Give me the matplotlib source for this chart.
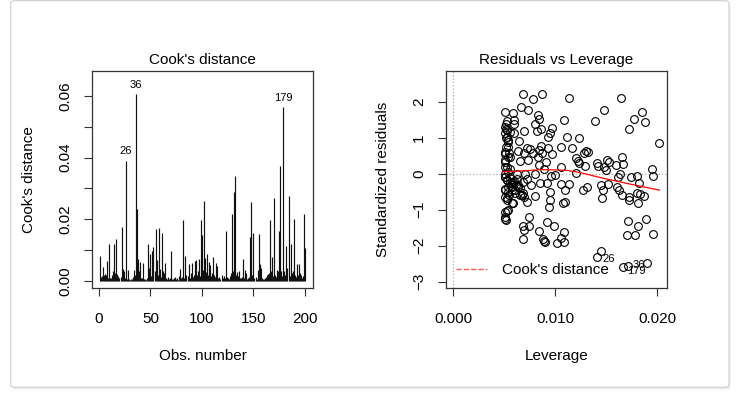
import numpy as np
import matplotlib
matplotlib.use("Agg")
import matplotlib.pyplot as plt
from matplotlib.patches import FancyBboxPatch

plt.rcParams['font.family'] = ['Liberation Sans', 'DejaVu Sans']

cooks = [
    0.0080, 0.0012, 0.0015, 0.0045, 0.0020, 0.0022, 0.0018, 0.0063, 0.0010, 0.0120,
    0.0010, 0.0008, 0.0020, 0.0030, 0.0118, 0.0025, 0.0135, 0.0022, 0.0015, 0.0008,
    0.0012, 0.0173, 0.0037, 0.0030, 0.0010, 0.0390, 0.0006, 0.0035, 0.0004, 0.0003,
    0.0005, 0.0004, 0.0012, 0.0035, 0.0018, 0.0605, 0.0233, 0.0070, 0.0030, 0.0062,
    0.0010, 0.0008, 0.0056, 0.0006, 0.0004, 0.0003, 0.0010, 0.0120, 0.0040, 0.0088,
    0.0015, 0.0096, 0.0110, 0.0030, 0.0169, 0.0068, 0.0020, 0.0171, 0.0037, 0.0012,
    0.0154, 0.0030, 0.0025, 0.0058, 0.0010, 0.0006, 0.0012, 0.0004, 0.0008, 0.0098,
    0.0006, 0.0004, 0.0010, 0.0012, 0.0005, 0.0008, 0.0003, 0.0015, 0.0037, 0.0010,
    0.0012, 0.0198, 0.0008, 0.0080, 0.0020, 0.0015, 0.0054, 0.0010, 0.0025, 0.0056,
    0.0012, 0.0018, 0.0063, 0.0067, 0.0020, 0.0030, 0.0072, 0.0015, 0.0197, 0.0150,
    0.0035, 0.0259, 0.0073, 0.0028, 0.0087, 0.0020, 0.0060, 0.0050, 0.0015, 0.0025,
    0.0078, 0.0020, 0.0012, 0.0058, 0.0048, 0.0008, 0.0012, 0.0006, 0.0020, 0.0010,
    0.0015, 0.0008, 0.0162, 0.0012, 0.0010, 0.0006, 0.0015, 0.0025, 0.0216, 0.0030,
    0.0289, 0.0341, 0.0020, 0.0028, 0.0015, 0.0032, 0.0010, 0.0008, 0.0012, 0.0071,
    0.0010, 0.0035, 0.0025, 0.0006, 0.0008, 0.0012, 0.0143, 0.0254, 0.0020, 0.0155,
    0.0010, 0.0012, 0.0006, 0.0035, 0.0153, 0.0053, 0.0040, 0.0008, 0.0005, 0.0004,
    0.0010, 0.0012, 0.0018, 0.0022, 0.0025, 0.0196, 0.0030, 0.0078, 0.0015, 0.0270,
    0.0020, 0.0012, 0.0035, 0.0030, 0.0160, 0.0373, 0.0030, 0.0015, 0.0565, 0.0032,
    0.0020, 0.0114, 0.0040, 0.0275, 0.0015, 0.0119, 0.0025, 0.0032, 0.0200, 0.0018,
    0.0012, 0.0054, 0.0020, 0.0054, 0.0025, 0.0018, 0.0010, 0.0015, 0.0216, 0.0105,
]
obs = np.arange(1, len(cooks) + 1)
cook_ids = [26, 36, 179]

# Residuals vs leverage points
leverage = [
    0.00686, 0.00778, 0.00866, 0.01131, 0.01647, 0.00660, 0.00729, 0.00503, 0.00588, 0.00827,
    0.00837, 0.00595, 0.00523, 0.00513, 0.01085, 0.01389, 0.01477, 0.01846, 0.01771, 0.01882,
    0.01725, 0.00598, 0.00801, 0.00856, 0.00964, 0.00820, 0.00690, 0.00513, 0.00503, 0.00556,
    0.00598, 0.00526, 0.01111, 0.01232, 0.00928, 0.00951, 0.00647, 0.02013, 0.00533, 0.00533,
    0.00719, 0.00752, 0.00859, 0.00925, 0.01052, 0.01163, 0.01301, 0.01324, 0.01281, 0.00843,
    0.00873, 0.00631, 0.00696, 0.00778, 0.00964, 0.00552, 0.00503, 0.00542, 0.00650, 0.00735,
    0.00830, 0.00908, 0.00843, 0.01203, 0.01222, 0.01235, 0.01294, 0.01056, 0.01412, 0.01415,
    0.01503, 0.01526, 0.01497, 0.01650, 0.01660, 0.01595, 0.01480, 0.01948, 0.01958, 0.00503,
    0.00503, 0.00552, 0.00503, 0.00533, 0.00621, 0.00706, 0.00801, 0.00958, 0.00997, 0.00892,
    0.01203, 0.01614, 0.01634, 0.01745, 0.01804, 0.01824, 0.00507, 0.00529, 0.00556, 0.00572,
    0.00588, 0.00621, 0.00637, 0.00654, 0.00605, 0.00539, 0.00503, 0.00686, 0.00719, 0.00761,
    0.00850, 0.00915, 0.00948, 0.01056, 0.01137, 0.01095, 0.01275, 0.01307, 0.01448, 0.01471,
    0.01513, 0.01608, 0.01627, 0.01650, 0.01719, 0.01719, 0.01804, 0.01830, 0.01869, 0.01807,
    0.01458, 0.00670, 0.00690, 0.00719, 0.00804, 0.00948, 0.00941, 0.01078, 0.01095, 0.00503,
    0.00523, 0.00529, 0.00503, 0.00572, 0.00533, 0.00503, 0.00503, 0.00745, 0.00680, 0.00745,
    0.00693, 0.00686, 0.00843, 0.00922, 0.00990, 0.01088, 0.00876, 0.00889, 0.00902, 0.01059,
    0.01088, 0.01020, 0.01712, 0.01889, 0.01807, 0.01703, 0.01784, 0.01954, 0.01448, 0.01412,
    0.01660, 0.01710, 0.01902, 0.00507, 0.00523, 0.00556, 0.00572, 0.00595, 0.00615, 0.00637,
    0.00539, 0.00507, 0.00572, 0.00654, 0.00670, 0.00686, 0.00549, 0.00605, 0.00523, 0.00582,
    0.00516, 0.00507, 0.00523, 0.00513, 0.00539, 0.00516, 0.00507, 0.00539, 0.00507, 0.00523,
]
std_resid = [
    2.20, 2.06, 2.20, 2.10, 2.11, 1.86, 1.78, 1.72, 1.69, 1.62,
    1.53, 1.50, 1.47, 1.39, 1.49, 1.47, 1.76, 1.70, 1.53, 1.42,
    1.25, 1.37, 1.38, 1.25, 1.27, 1.19, 1.17, 1.25, 1.12, 1.16,
    1.13, 1.02, 1.01, 1.00, 1.02, 1.12, 0.90, 0.84, 0.93, 0.75,
    0.72, 0.69, 0.76, 0.70, 0.75, 0.72, 0.63, 0.61, 0.58, 0.65,
    0.58, 0.62, 0.56, 0.56, 0.53, 0.47, 0.54, 0.56, 0.35, 0.39,
    0.47, 0.31, 0.24, 0.42, 0.35, 0.28, 0.21, 0.19, 0.30, 0.21,
    0.38, 0.31, 0.10, 0.45, 0.26, 0.24, 0.19, 0.13, -0.07, 0.37,
    0.19, 0.14, 0.00, 0.05, 0.00, -0.01, -0.02, -0.06, -0.03, 0.12,
    0.02, -0.09, 0.00, -0.09, -0.06, -0.25, -0.09, -0.18, -0.25, -0.37,
    -0.23, -0.16, -0.32, -0.41, -0.46, -0.50, -0.44, -0.23, -0.16, -0.32,
    -0.27, -0.27, -0.50, -0.29, -0.30, -0.46, -0.46, -0.38, -0.32, -0.46,
    -0.30, -0.37, -0.46, -0.60, -0.64, -0.74, -0.53, -0.58, -0.62, -0.81,
    -0.69, -0.60, -0.64, -0.78, -0.62, -0.74, -0.94, -0.83, -0.78, -0.64,
    -0.69, -1.03, -1.06, -0.83, -1.00, -1.25, -1.20, -1.22, -1.46, -1.45,
    -1.57, -1.82, -1.59, -1.34, -1.45, -1.62, -1.83, -1.87, -1.89, -1.80,
    -1.89, -1.92, -1.31, -1.25, -1.46, -1.71, -1.71, -1.69, -2.14, -2.33,
    -2.60, -2.56, -2.49, -0.09, -0.18, -0.13, -0.27, -0.22, -0.32, -0.36,
    -0.36, -0.46, -0.46, -0.60, -0.60, -0.55, -0.60, -0.55, -0.74, -0.83,
    -1.29, 1.30, 1.21, 0.98, 0.89, 0.75, 0.61, 0.47, 0.33, 0.19,
]
# labelled points: (leverage, residual, id)
flagged = [(0.01412, -2.33, "26"), (0.01710, -2.49, "36"), (0.01660, -2.66, "179")]

# smoothed red line
smooth_lev = [0.0049, 0.0072, 0.0085, 0.0101, 0.0111, 0.0124, 0.0147, 0.0173, 0.0202]
smooth_res = [0.05, 0.08, 0.11, 0.10, 0.09, 0.03, -0.13, -0.29, -0.46]

fig = plt.figure(figsize=(7.39, 3.95), dpi=100)

# card frame behind both panels
shadow = FancyBboxPatch((12.5 / 739, 5.5 / 395), 718 / 739, 386 / 395,
                        boxstyle="round,pad=0,rounding_size=0.006", transform=fig.transFigure,
                        facecolor="#eeeeee", edgecolor="none", zorder=-3)
card = FancyBboxPatch((10.7 / 739, 7.7 / 395), 718.3 / 739, 386.6 / 395,
                      boxstyle="round,pad=0,rounding_size=0.006", transform=fig.transFigure,
                      facecolor="white", edgecolor="#d2d2d2", linewidth=0.9, zorder=-2)
fig.patches.extend([shadow, card])

fs = 11


def r_style(ax):
    ax.patch.set_visible(False)
    for s in ax.spines.values():
        s.set_linewidth(0.9)
        s.set_color("#333333")
    ax.tick_params(direction="out", length=6, width=0.8, color="#333333", labelsize=fs)
    ax.tick_params(axis="x", pad=11)
    ax.tick_params(axis="y", pad=8)
    for lab in ax.get_yticklabels():
        lab.set_rotation(90)
        lab.set_va("center")


# left: Cook's distance
ax1 = fig.add_axes([91.7 / 739, (395 - 288) / 395, 221.5 / 739, 217 / 395])
ax1.vlines(obs, 0, cooks, color="#111111", linewidth=0.85)
ax1.set_xlim(-6.96, 207.96)
ax1.set_ylim(-0.00237, 0.0681)
ax1.set_xticks([0, 50, 100, 150, 200])
ax1.set_yticks([0.0, 0.01, 0.02, 0.03, 0.04, 0.05, 0.06])
ax1.set_yticklabels(["0.00", "", "0.02", "", "0.04", "", "0.06"])
for i in cook_ids:
    ax1.annotate(str(i), (i, cooks[i - 1]), xytext=(0, 3), textcoords="offset points",
                 ha="center", va="bottom", fontsize=8)
ax1.set_title("Cook's distance", fontsize=fs, pad=5)
ax1.set_xlabel("Obs. number", fontsize=fs, labelpad=17)
ax1.set_ylabel("Cook's distance", fontsize=fs, labelpad=16)
r_style(ax1)

# right: Residuals vs Leverage
ax2 = fig.add_axes([445.7 / 739, (395 - 288) / 395, 221.6 / 739, 217 / 395])
ax2.axvline(0, color="#aaaaaa", linestyle=":", linewidth=0.9)
ax2.axhline(0, color="#aaaaaa", linestyle=":", linewidth=0.9)
ax2.plot(leverage, std_resid, "o", mfc="none", mec="black", ms=5.6, mew=0.8)
ax2.plot(smooth_lev, smooth_res, color="red", linewidth=0.9)
ax2.plot([], [], color="#ff5555", linestyle="--", linewidth=1, label="Cook's distance")
for lx, ry, name in flagged:
    ax2.annotate(name, (lx, ry), xytext=(3.5, -1.5), textcoords="offset points",
                 ha="left", va="center", fontsize=8)
ax2.set_xlim(-0.000745, 0.02098)
ax2.set_ylim(-3.18, 2.85)
ax2.set_xticks([0, 0.01, 0.02])
ax2.set_xticklabels(["0.000", "0.010", "0.020"])
ax2.set_yticks([-3, -2, -1, 0, 1, 2])
ax2.legend(loc="lower left", frameon=False, fontsize=fs, handlelength=2.0,
           handletextpad=1.0, borderaxespad=0.3, bbox_to_anchor=(0.0, 0.0))
ax2.set_title("Residuals vs Leverage", fontsize=fs, pad=5)
ax2.set_xlabel("Leverage", fontsize=fs, labelpad=17)
ax2.set_ylabel("Standardized residuals", fontsize=fs, labelpad=16)
r_style(ax2)

fig.savefig("out.png", dpi=100)
